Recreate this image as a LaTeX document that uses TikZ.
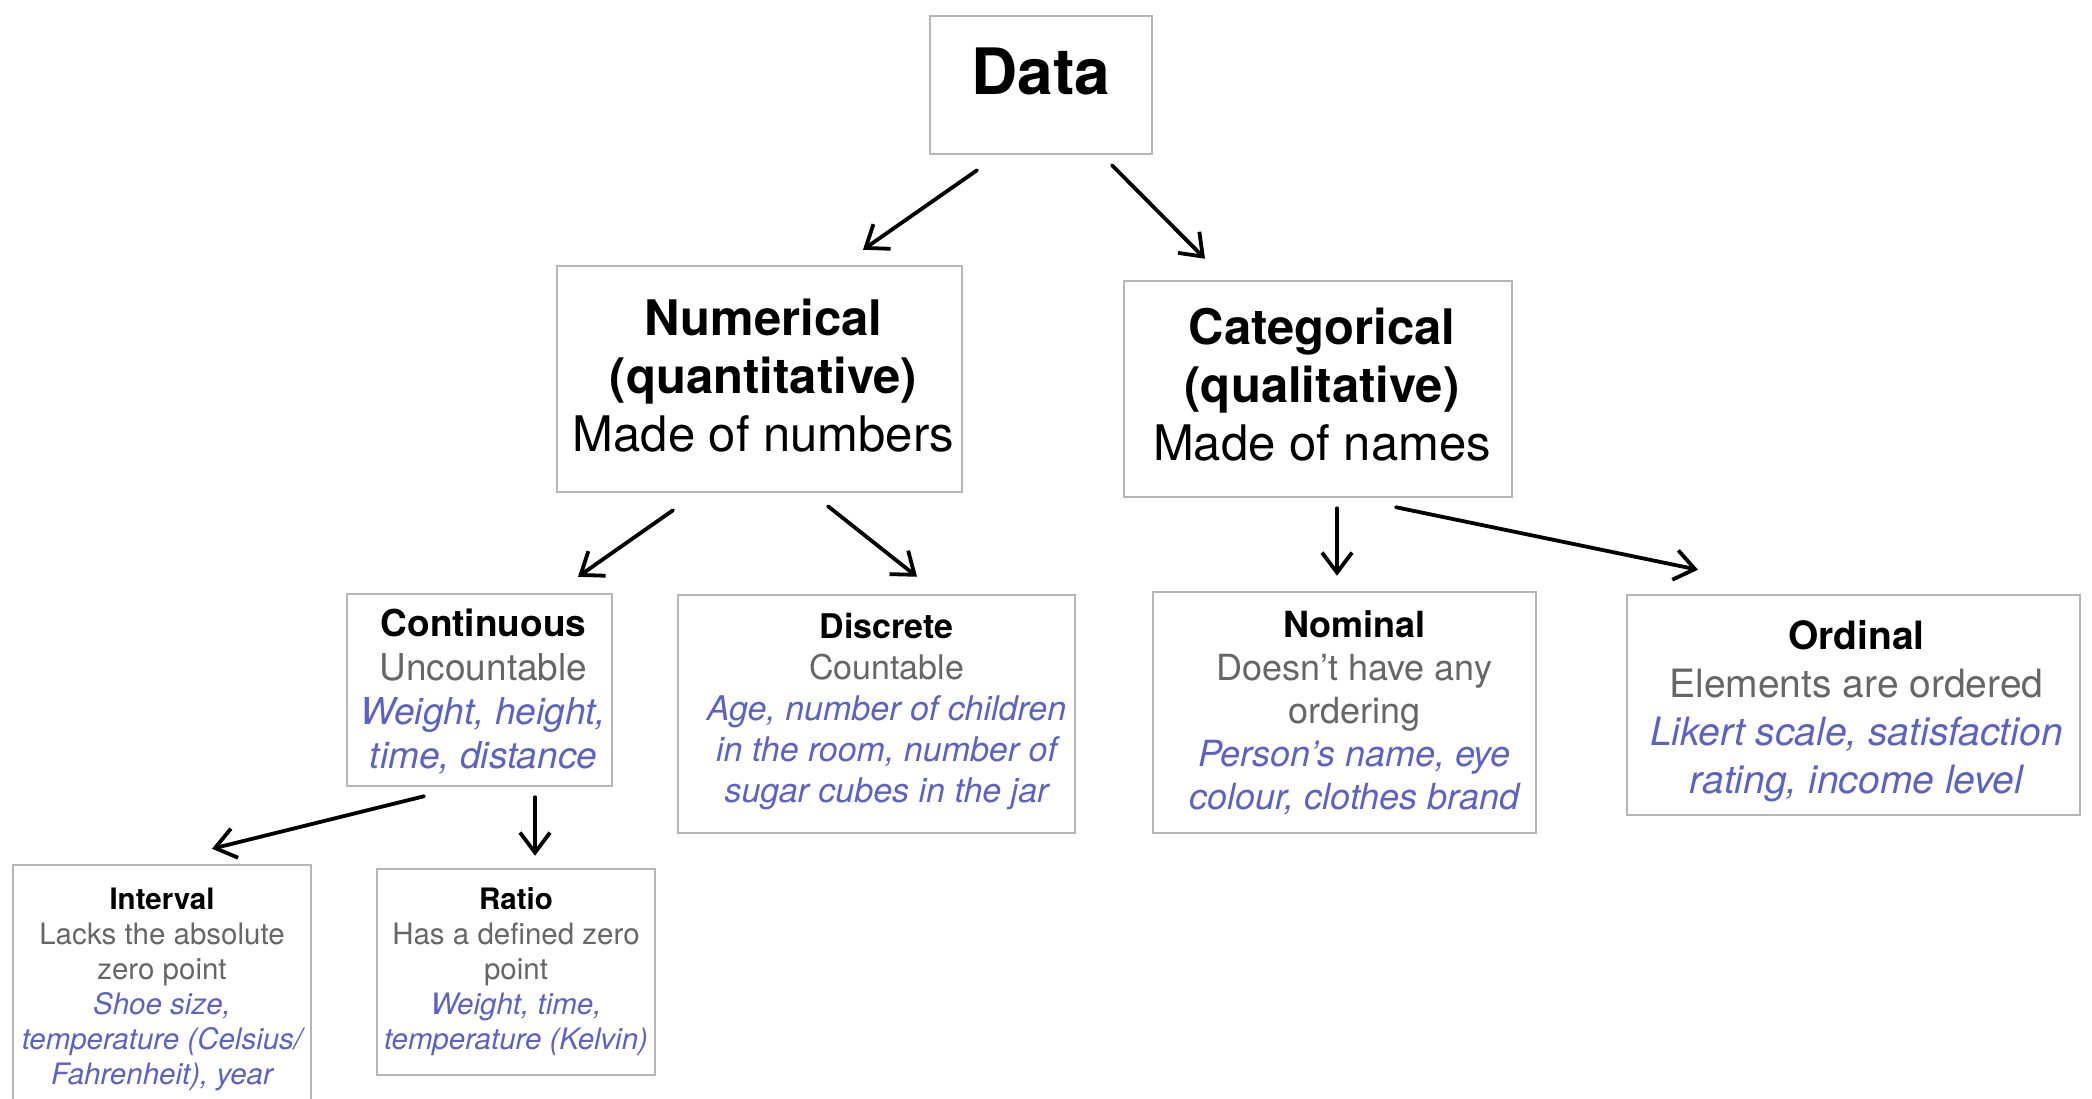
\documentclass[tikz,border=0pt]{standalone}
\usepackage{fontspec}
\setmainfont{TeX Gyre Heros}
\usetikzlibrary{arrows.meta}
\definecolor{boxline}{RGB}{182,182,182}
\definecolor{desc}{RGB}{102,102,102}
\definecolor{example}{RGB}{92,98,196}
% text block shifted by (#1 right, #2 raise) inside its box
\newcommand{\boxtext}[3]{\kern#1\raisebox{#2}{\smash{\begin{tabular}{@{}c@{}}#3\end{tabular}}}\vphantom{\begin{tabular}{@{}c@{}}#3\end{tabular}}}
\begin{document}
\begin{tikzpicture}[x=1pt,y=-1pt,
  box/.style={draw=boxline, line width=2.5pt, inner sep=0pt, rectangle, fill=white},
  arr/.style={line width=3.8pt, line cap=round, -{Straight Barb[length=20pt,width=30pt]}}]
\useasboundingbox[fill=white] (0,0) rectangle (2092,1099);
\clip (0,0) rectangle (2092,1099);

% top level
\node[box, minimum width=222pt, minimum height=138pt,
      font=\fontsize{64}{70}\selectfont\bfseries, text height=46pt, text depth=26pt]
      (data) at (1041,85) {Data};

% second level
\node[box, minimum width=405pt, minimum height=226pt, font=\fontsize{49}{58}\selectfont]
  (num) at (759.5,379) {\boxtext{8pt}{-2.5pt}{\textbf{Numerical}\\\textbf{(quantitative)}\\Made of numbers}};
\node[box, minimum width=388pt, minimum height=216pt, font=\fontsize{49}{58}\selectfont]
  (cat) at (1318,389) {\boxtext{8pt}{-2pt}{\textbf{Categorical}\\\textbf{(qualitative)}\\Made of names}};

% third level
\node[box, minimum width=265pt, minimum height=192pt, font=\fontsize{37}{44}\selectfont]
  (cont) at (479.5,690) {\boxtext{8pt}{-3.3pt}{\textbf{Continuous}\\{\color{desc}Uncountable}\\{\color{example}\itshape Weight, height,}\\{\color{example}\itshape time, distance}}};
\node[box, minimum width=397pt, minimum height=238pt, font=\fontsize{34}{41}\selectfont]
  (disc) at (876.5,714) {\boxtext{20pt}{2pt}{\textbf{Discrete}\\{\color{desc}Countable}\\{\color{example}\itshape Age, number of children}\\{\color{example}\itshape in the room, number of}\\{\color{example}\itshape sugar cubes in the jar}}};
\node[box, minimum width=383pt, minimum height=241pt, font=\fontsize{36}{43}\selectfont]
  (nom) at (1344.5,712.5) {\boxtext{20pt}{-2.7pt}{\textbf{Nominal}\\{\color{desc}Doesn’t have any}\\{\color{desc}ordering}\\{\color{example}\itshape Person’s name, eye}\\{\color{example}\itshape colour, clothes brand}}};
\node[box, minimum width=453pt, minimum height=220pt, font=\fontsize{39}{48}\selectfont]
  (ord) at (1853.5,705) {\boxtext{6pt}{-7pt}{\textbf{Ordinal}\\{\color{desc}Elements are ordered}\\{\color{example}\itshape Likert scale, satisfaction}\\{\color{example}\itshape rating, income level}}};

% fourth level
\node[box, minimum width=298pt, minimum height=241pt, font=\fontsize{29.5}{35}\selectfont]
  (intv) at (162,985.5) {\boxtext{0pt}{-4pt}{\textbf{Interval}\\{\color{desc}Lacks the absolute}\\{\color{desc}zero point}\\{\color{example}\itshape Shoe size,}\\{\color{example}\itshape temperature (Celsius/}\\{\color{example}\itshape Fahrenheit), year}}};
\node[box, minimum width=278pt, minimum height=206pt, font=\fontsize{29.5}{35}\selectfont]
  (ratio) at (516,972) {\boxtext{0pt}{0pt}{\textbf{Ratio}\\{\color{desc}Has a defined zero}\\{\color{desc}point}\\{\color{example}\itshape Weight, time,}\\{\color{example}\itshape temperature (Kelvin)}}};

% connectors
\draw[arr] ([shift={(-64,15)}]data.south) -- ([shift={(103.5,-15)}]num.north);
\draw[arr] ([shift={(71,10)}]data.south) -- ([shift={(-113,-21)}]cat.north);
\draw[arr] ([shift={(-86.5,17)}]num.south) -- ([shift={(98.5,-16)}]cont.north);
\draw[arr] ([shift={(68.5,13)}]num.south) -- ([shift={(40.5,-17)}]disc.north);
\draw[arr] ([shift={(19,10)}]cat.south) -- ([shift={(-7.5,-15)}]nom.north);
\draw[arr] ([shift={(78,9)}]cat.south) -- ([shift={(-155.5,-24)}]ord.north);
\draw[arr] ([shift={(-55.5,9)}]cont.south) -- ([shift={(50,-15)}]intv.north);
\draw[arr] ([shift={(55.5,10)}]cont.south) -- ([shift={(19,-12)}]ratio.north);
\end{tikzpicture}
\end{document}
